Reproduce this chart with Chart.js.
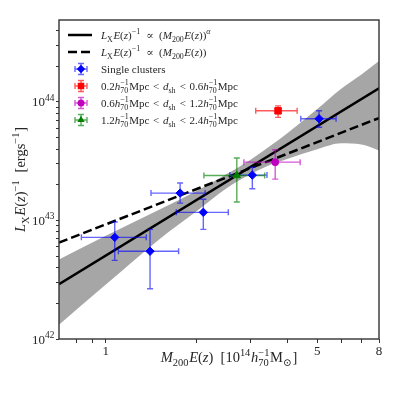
<!DOCTYPE html>
<html>
<head>
<meta charset="utf-8">
<script src="https://cdn.jsdelivr.net/npm/chart.js@4.4.0/dist/chart.umd.min.js"></script>
<style>
  html, body { margin: 0; padding: 0; background: #fff; }
  canvas { display: block; }
</style>
</head>
<body>
<canvas id="lxm" width="399" height="399"></canvas>
<script>
// single clusters (blue diamonds), mass in 1e14 h70^-1 Msun, Lx in erg/s
const singleM   = [1.07, 1.40, 1.76, 2.10, 3.05, 5.07];
const singleMlo = [0.83, 1.10, 1.41, 1.71, 2.57, 4.41];
const singleMhi = [1.36, 1.74, 2.13, 2.54, 3.41, 5.77];
const singleL   = [7.2e42, 5.5e42, 1.70e43, 1.17e43, 2.41e43, 7.2e43];
const singleLlo = [4.6e42, 2.65e42, 1.40e43, 8.4e42, 1.85e43, 6.1e43];
const singleLhi = [9.7e42, 8.4e42, 2.07e43, 1.51e43, 2.81e43, 8.4e43];

// stacked bins by shift distance
const binM   = [3.71, 3.63, 2.71];
const binMlo = [3.13, 2.86, 2.11];
const binMhi = [4.29, 4.39, 3.35];
const binL   = [8.4e43, 3.10e43, 2.39e43];
const binLlo = [7.4e43, 2.23e43, 1.43e43];
const binLhi = [9.25e43, 3.95e43, 3.36e43];

// fitted relations (end points)
const fitM      = [0.7, 8];
const fitSlope  = [2.9e42, 1.30e44];
const fitUnity  = [6.5e42, 7.3e43];

// confidence band of the fit
const bandM     = [0.7, 1.0, 1.5, 2.0, 2.5, 3.0, 3.5, 4.0, 5.0, 6.0, 7.0, 8.0];
const bandUpper = [4.68e42, 7.41e42, 1.23e43, 1.78e43, 2.45e43, 3.24e43, 4.27e43, 5.50e43, 8.71e43, 1.29e44, 1.70e44, 2.21e44];
const bandLower = [1.32e42, 2.88e42, 6.92e42, 1.20e43, 1.86e43, 2.45e43, 2.95e43, 3.31e43, 3.98e43, 4.47e43, 4.37e43, 3.89e43];

// ticks
const xTicks = [0.8, 0.9, 1, 2, 3, 4, 5, 6, 7, 8];
const xLabelled = [1, 5, 8];
const yMajor = [1e42, 1e43, 1e44];
const yExp = ['42', '43', '44'];

const FONT = '"Liberation Serif", "DejaVu Serif", serif';
const TXT = '#262626';

const pts = (xs, ys) => xs.map((x, i) => ({ x: x, y: ys[i] }));

const yTicks = [];
yMajor.forEach(d => { for (let k = 1; k <= 9; k++) { if (d * k <= 4.9e44) yTicks.push(d * k); } });

// error bar groups
const groups = [
  { m: singleM, lo: singleMlo, hi: singleMhi, l: singleL, llo: singleLlo, lhi: singleLhi, c: 'rgba(0,0,255,0.6)' },
  { m: [binM[0]], lo: [binMlo[0]], hi: [binMhi[0]], l: [binL[0]], llo: [binLlo[0]], lhi: [binLhi[0]], c: 'rgba(255,0,0,0.65)' },
  { m: [binM[1]], lo: [binMlo[1]], hi: [binMhi[1]], l: [binL[1]], llo: [binLlo[1]], lhi: [binLhi[1]], c: 'rgba(191,0,191,0.65)' },
  { m: [binM[2]], lo: [binMlo[2]], hi: [binMhi[2]], l: [binL[2]], llo: [binLlo[2]], lhi: [binLhi[2]], c: 'rgba(0,128,0,0.65)' }
];

// small rich-text helper: flags i=italic, b=sub, p=sup, k=stack on previous
function mathRuns(ctx, segs, size) {
  const runs = [];
  let x = 0, lastStart = 0;
  for (const [t, f] of segs) {
    const small = f.includes('b') || f.includes('p');
    const sz = small ? size * 0.72 : size;
    const font = (f.includes('i') ? 'italic ' : '') + sz + 'px ' + FONT;
    ctx.font = font;
    const w = ctx.measureText(t).width;
    const start = f.includes('k') ? lastStart : x;
    const dy = f.includes('b') ? size * 0.25 : f.includes('p') ? -size * 0.42 : 0;
    runs.push({ t, font, dx: start, dy });
    x = Math.max(x, start + w + (small ? size * 0.05 : 0));
    lastStart = start;
  }
  return { runs, width: x };
}

function drawMath(ctx, segs, x, y, size, align) {
  const r = mathRuns(ctx, segs, size);
  let x0 = x;
  if (align === 'right') x0 = x - r.width;
  if (align === 'center') x0 = x - r.width / 2;
  ctx.fillStyle = TXT;
  ctx.textBaseline = 'alphabetic';
  ctx.textAlign = 'left';
  r.runs.forEach(run => { ctx.font = run.font; ctx.fillText(run.t, x0 + run.dx, y + run.dy); });
}

function marker(ctx, style, x, y, r, color) {
  ctx.fillStyle = color;
  ctx.beginPath();
  if (style === 'rectRot') {
    ctx.moveTo(x - r, y); ctx.lineTo(x, y - r); ctx.lineTo(x + r, y); ctx.lineTo(x, y + r);
  } else if (style === 'rect') {
    const s = r * Math.SQRT1_2;
    ctx.rect(x - s, y - s, 2 * s, 2 * s);
  } else if (style === 'triangle') {
    ctx.moveTo(x, y - r); ctx.lineTo(x + r * 0.866, y + r * 0.5); ctx.lineTo(x - r * 0.866, y + r * 0.5);
  } else {
    ctx.arc(x, y, r, 0, Math.PI * 2);
  }
  ctx.closePath();
  ctx.fill();
}

function errBar(ctx, x1, y1, x2, y2, cap, vertical) {
  ctx.beginPath();
  ctx.moveTo(x1, y1); ctx.lineTo(x2, y2);
  if (vertical) {
    ctx.moveTo(x1 - cap, y1); ctx.lineTo(x1 + cap, y1);
    ctx.moveTo(x2 - cap, y2); ctx.lineTo(x2 + cap, y2);
  } else {
    ctx.moveTo(x1, y1 - cap); ctx.lineTo(x1, y1 + cap);
    ctx.moveTo(x2, y2 - cap); ctx.lineTo(x2, y2 + cap);
  }
  ctx.stroke();
}

const lxTerm = [['L', 'i'], ['X', 'b'], ['E', 'i'], ['(', ''], ['z', 'i'], [')', ''], ['\u22121', 'p'], ['\u2002\u221D\u2002(', ''], ['M', 'i'], ['200', 'b'], ['E', 'i'], ['(', ''], ['z', 'i'], ['))', '']];
const binLabel = (a, b) => [[a, ''], ['h', 'i'], ['70', 'b'], ['\u22121', 'pk'], ['Mpc', ''], ['\u2004<\u2004', ''], ['d', 'i'], ['sh', 'b'], ['\u2004<\u2004' + b, ''], ['h', 'i'], ['70', 'b'], ['\u22121', 'pk'], ['Mpc', '']];

const legendRows = [
  { kind: 'line', dash: [], text: lxTerm.concat([['\u03B1', 'ip']]) },
  { kind: 'line', dash: [9, 4], text: lxTerm },
  { kind: 'pt', style: 'rectRot', r: 4.2, c: '#0000ff', e: 'rgba(0,0,255,0.6)', text: [['Single clusters', '']] },
  { kind: 'pt', style: 'rect', r: 4.6, c: '#ff0000', e: 'rgba(255,0,0,0.65)', text: binLabel('0.2', '0.6') },
  { kind: 'pt', style: 'circle', r: 3.5, c: '#bf00bf', e: 'rgba(191,0,191,0.65)', text: binLabel('0.6', '1.2') },
  { kind: 'pt', style: 'triangle', r: 4.2, c: '#008000', e: 'rgba(0,128,0,0.65)', text: binLabel('1.2', '2.4') }
];

const decor = {
  id: 'decor',
  afterDatasetDraw(chart, args) {
    if (args.index !== 4) return;
    const ctx = chart.ctx, sx = chart.scales.x, sy = chart.scales.y;
    ctx.save();
    ctx.lineWidth = 1.4;
    groups.forEach(g => {
      ctx.strokeStyle = g.c;
      g.m.forEach((m, i) => {
        const px = sx.getPixelForValue(m), py = sy.getPixelForValue(g.l[i]);
        errBar(ctx, sx.getPixelForValue(g.lo[i]), py, sx.getPixelForValue(g.hi[i]), py, 3, false);
        errBar(ctx, px, sy.getPixelForValue(g.llo[i]), px, sy.getPixelForValue(g.lhi[i]), 3, true);
      });
    });
    ctx.restore();
  },
  afterDraw(chart) {
    const ctx = chart.ctx, a = chart.chartArea, sy = chart.scales.y;
    ctx.save();
    // frame
    ctx.strokeStyle = '#333';
    ctx.lineWidth = 1.4;
    ctx.strokeRect(a.left, a.top, a.right - a.left, a.bottom - a.top);
    // y tick labels
    yMajor.forEach((v, i) => {
      const py = sy.getPixelForValue(v);
      drawMath(ctx, [['10', ''], [yExp[i], 'p']], a.left - 4, py + 4.5, 13, 'right');
    });
    // axis titles
    drawMath(ctx, [['M', 'i'], ['200', 'b'], ['E', 'i'], ['(', ''], ['z', 'i'], [')\u2002[10', ''], ['14', 'p'], ['h', 'i'], ['70', 'b'], ['\u22121', 'pk'], ['M', ''], ['\u2299', 'b'], [']', '']], 229, 362, 14.5, 'center');
    ctx.save();
    ctx.translate(20, (a.top + a.bottom) / 2);
    ctx.rotate(-Math.PI / 2);
    drawMath(ctx, [['L', 'i'], ['X', 'b'], ['E', 'i'], ['(', ''], ['z', 'i'], [')', ''], ['\u22121', 'p'], ['\u2002[ergs', ''], ['\u22121', 'p'], [']', '']], 0, 5, 14.5, 'center');
    ctx.restore();
    // legend
    legendRows.forEach((row, i) => {
      const cy = 35 + i * 17;
      if (row.kind === 'line') {
        ctx.strokeStyle = '#000';
        ctx.lineWidth = 2.5;
        ctx.setLineDash(row.dash);
        ctx.beginPath(); ctx.moveTo(68, cy); ctx.lineTo(92, cy); ctx.stroke();
        ctx.setLineDash([]);
      } else {
        ctx.strokeStyle = row.e;
        ctx.lineWidth = 1.4;
        errBar(ctx, 75, cy, 87, cy, 3, false);
        errBar(ctx, 81, cy - 5.5, 81, cy + 5.5, 3, true);
        marker(ctx, row.style, 81, cy, row.r, row.c);
      }
      drawMath(ctx, row.text, 101, cy + 4, 11, 'left');
    });
    ctx.restore();
  }
};

const ctx = document.getElementById('lxm').getContext('2d');
const chart = new Chart(ctx, {
  type: 'scatter',
  data: {
    datasets: [
      { label: 'Single clusters', data: pts(singleM, singleL), pointStyle: 'rectRot', pointRadius: 4.2, backgroundColor: '#0000ff', borderColor: '#0000ff', borderWidth: 1, order: 0 },
      { label: '0.2-0.6', data: pts([binM[0]], [binL[0]]), pointStyle: 'rect', pointRadius: 4.6, backgroundColor: '#ff0000', borderColor: '#ff0000', borderWidth: 1, order: 0 },
      { label: '0.6-1.2', data: pts([binM[1]], [binL[1]]), pointStyle: 'circle', pointRadius: 3.5, backgroundColor: '#bf00bf', borderColor: '#bf00bf', borderWidth: 1, order: 0 },
      { label: '1.2-2.4', data: pts([binM[2]], [binL[2]]), pointStyle: 'triangle', pointRadius: 4.2, backgroundColor: '#008000', borderColor: '#008000', borderWidth: 1, order: 0 },
      { type: 'line', label: 'fit alpha', data: pts(fitM, fitSlope), borderColor: '#000', borderWidth: 2.5, pointRadius: 0, fill: false, order: 1 },
      { type: 'line', label: 'fit unity', data: pts(fitM, fitUnity), borderColor: '#000', borderWidth: 2.5, borderDash: [9, 4], pointRadius: 0, fill: false, order: 1 },
      { type: 'line', label: 'band lo', data: pts(bandM, bandLower), borderWidth: 0, borderColor: 'rgba(0,0,0,0)', pointRadius: 0, fill: false, cubicInterpolationMode: 'monotone', order: 2 },
      { type: 'line', label: 'band hi', data: pts(bandM, bandUpper), borderWidth: 0, borderColor: 'rgba(0,0,0,0)', pointRadius: 0, fill: '-1', backgroundColor: 'rgba(128,128,128,0.7)', cubicInterpolationMode: 'monotone', order: 2 }
    ]
  },
  options: {
    responsive: false,
    animation: false,
    devicePixelRatio: 1,
    layout: { padding: { top: 20, right: 20, left: 0, bottom: 0 } },
    plugins: { legend: { display: false }, tooltip: { enabled: false } },
    scales: {
      x: {
        type: 'logarithmic', min: 0.7, max: 8,
        afterFit: s => { s.height = 60; },
        afterBuildTicks: s => { s.ticks = xTicks.map(v => ({ value: v })); },
        border: { display: false },
        grid: { drawOnChartArea: false, tickLength: 4, color: '#333', lineWidth: 1 },
        ticks: { autoSkip: false, maxRotation: 0, padding: 1, color: TXT, font: { family: FONT, size: 13 },
          callback: v => xLabelled.includes(v) ? String(v) : '' }
      },
      y: {
        type: 'logarithmic', min: 1e42, max: 4.9e44,
        afterFit: s => { s.width = 59; },
        afterBuildTicks: s => { s.ticks = yTicks.map(v => ({ value: v })); },
        border: { display: false },
        grid: { drawOnChartArea: false, tickLength: 3, color: '#333', lineWidth: 1 },
        ticks: { autoSkip: false, callback: () => '' }
      }
    }
  },
  plugins: [decor]
});
</script>
</body>
</html>
